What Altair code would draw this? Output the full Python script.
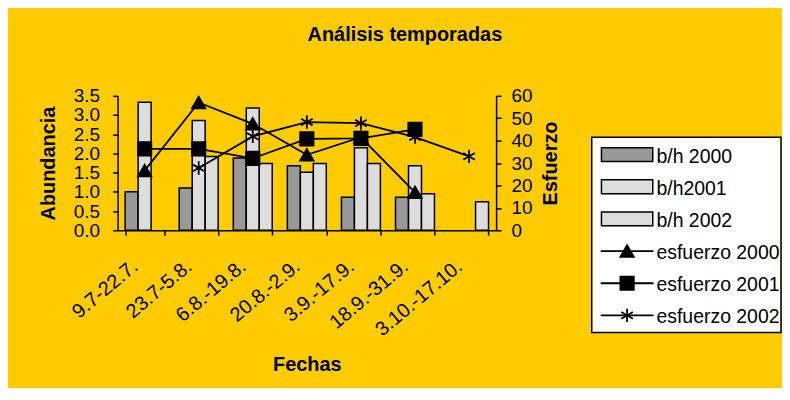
import altair as alt
import pandas as pd

# ---------------- data ----------------
fechas = ["9.7-22.7.", "23.7-5.8.", "6.8.-19.8.", "20.8.-2.9.",
          "3.9.-17.9.", "18.9.-31.9.", "3.10.-17.10."]

series_barras = ["b/h 2000", "b/h2001", "b/h 2002"]
bh_2000 = [1.00, 1.10, 1.88, 1.68, 0.86, 0.86, None]
bh_2001 = [3.33, 2.86, 3.18, 1.51, 2.15, 1.68, None]
bh_2002 = [None, 1.92, 1.74, 1.74, 1.74, 0.95, 0.74]

series_lineas = ["esfuerzo 2000", "esfuerzo 2001", "esfuerzo 2002"]
esf_2000 = [26.6, 57.0, 47.5, 33.7, 41.5, 16.9, None]
esf_2001 = [36.3, 36.3, 32.1, 40.8, 41.0, 45.0, None]
esf_2002 = [None, 27.8, 41.9, 48.3, 47.8, 41.6, 33.0]

# ---------------- styles ----------------
FONT = "Liberation Sans"
colores_barras = ["#999999", "#DDDDDD", "#DDDDDD"]
STAR = "M0,-1L0,1M-0.87,-0.5L0.87,0.5M-0.87,0.5L0.87,-0.5"
formas = ["triangle-up", "square", STAR]
RECT = "M-1,-0.27L1,-0.27L1,0.27L-1,0.27Z"

rows_b = []
for serie, vals in zip(series_barras, [bh_2000, bh_2001, bh_2002]):
    for f, v in zip(fechas, vals):
        if v is not None:
            rows_b.append({"fecha": f, "serie": serie, "valor": v})
df_b = pd.DataFrame(rows_b)

rows_l = []
for serie, vals in zip(series_lineas, [esf_2000, esf_2001, esf_2002]):
    for i, (f, v) in enumerate(zip(fechas, vals)):
        if v is not None:
            rows_l.append({"fecha": f, "serie": serie, "valor": v, "idx": i})
df_l = pd.DataFrame(rows_l)

x_enc = alt.X(
    "fecha:N",
    scale=alt.Scale(domain=fechas, paddingInner=0.28, paddingOuter=0.14),
    axis=alt.Axis(title="Fechas", labelAngle=-40, labelAlign="right",
                  labelBaseline="alphabetic", labelOffset=-6, labelPadding=33,
                  labelFontSize=20,
                  tickBand="extent", titlePadding=15, labelOverlap=False),
)

color_scale = alt.Scale(domain=series_barras, range=colores_barras)
shape_scale = alt.Scale(domain=series_lineas, range=formas)

barras = alt.Chart(df_b).mark_bar(stroke="black", strokeWidth=1.5).encode(
    x=x_enc,
    xOffset=alt.XOffset("serie:N", scale=alt.Scale(domain=series_barras,
                                                    paddingInner=0, paddingOuter=0)),
    y=alt.Y("valor:Q", scale=alt.Scale(domain=[0, 3.5], nice=False),
            axis=alt.Axis(title="Abundancia",
                          values=[0, 0.5, 1, 1.5, 2, 2.5, 3, 3.5],
                          format=".1f", labelPadding=13, titlePadding=15,
                          labelOverlap=False)),
    color=alt.Color("serie:N", scale=color_scale, legend=None),
)

y_r = alt.Y("valor:Q", scale=alt.Scale(domain=[0, 60], nice=False),
            axis=alt.Axis(orient="right", title="Esfuerzo",
                          values=[0, 10, 20, 30, 40, 50, 60],
                          titleAngle=270, titleBaseline="top",
                          labelPadding=10, titlePadding=8, labelOverlap=False))

lineas = alt.Chart(df_l).mark_line(color="black", strokeWidth=1.8).encode(
    x=x_enc, y=y_r, detail="serie:N", order="idx:Q")
puntos = alt.Chart(df_l).mark_point(filled=True, fill="black", stroke="black",
                                    strokeWidth=1.8, size=180, opacity=1).encode(
    x=x_enc, y=y_r,
    shape=alt.Shape("serie:N", scale=shape_scale, legend=None))

main = alt.layer(barras, alt.layer(lineas, puntos)).resolve_scale(
    y="independent").properties(width=380, height=135,
                                view=alt.ViewBackground(stroke="transparent"))

# ---------------- legend panel ----------------
nombres = series_barras + series_lineas
df_leg = pd.DataFrame({"serie": nombres,
                       "tipo": ["barra"] * 3 + ["linea"] * 3})
y_leg = alt.Y("serie:N", scale=alt.Scale(type="point", domain=nombres, padding=0.535),
              axis=None)

leg_bar = alt.Chart(df_leg).transform_filter(alt.datum.tipo == "barra").mark_point(
    shape=RECT, size=2652, filled=True, stroke="black", strokeWidth=1.5, opacity=1
).encode(x=alt.value(35.5), y=y_leg,
         color=alt.Color("serie:N", scale=color_scale, legend=None))
leg_rule = alt.Chart(df_leg).transform_filter(alt.datum.tipo == "linea").mark_rule(
    color="black", strokeWidth=1.8
).encode(x=alt.value(9), x2=alt.value(62), y=y_leg)
leg_pts = alt.Chart(df_leg).transform_filter(alt.datum.tipo == "linea").mark_point(
    filled=True, fill="black", stroke="black", strokeWidth=1.8, size=180, opacity=1
).encode(x=alt.value(35.5), y=y_leg,
         shape=alt.Shape("serie:N", scale=shape_scale, legend=None))
leg_text = alt.Chart(df_leg).mark_text(
    align="left", baseline="middle", font=FONT, fontSize=19.5, dy=2, color="black"
).encode(x=alt.value(65), y=y_leg, text="serie:N")

legend = alt.layer(leg_bar, leg_rule, leg_pts, leg_text).properties(
    width=190, height=196,
    view=alt.ViewBackground(fill="white", stroke="black", strokeWidth=1.5))

chart = alt.hconcat(main, legend, spacing=30, center=True).properties(
    title=alt.TitleParams("Análisis temporadas", font=FONT, fontSize=20,
                          fontWeight="bold", color="black", anchor="middle",
                          offset=42, dx=-5),
    padding={"left": 30, "top": 15, "right": 0, "bottom": 12},
    background="#FFCC00",
).configure_view(stroke="transparent").configure_axis(
    labelFont=FONT, labelFontSize=19, labelColor="black",
    titleFont=FONT, titleFontSize=20, titleFontWeight="bold", titleColor="black",
    domainColor="black", domainWidth=1.5, tickColor="black", tickWidth=1.5,
    tickSize=5, grid=False,
)

chart.save("out.html", embed_options={"renderer": "svg", "actions": False})
